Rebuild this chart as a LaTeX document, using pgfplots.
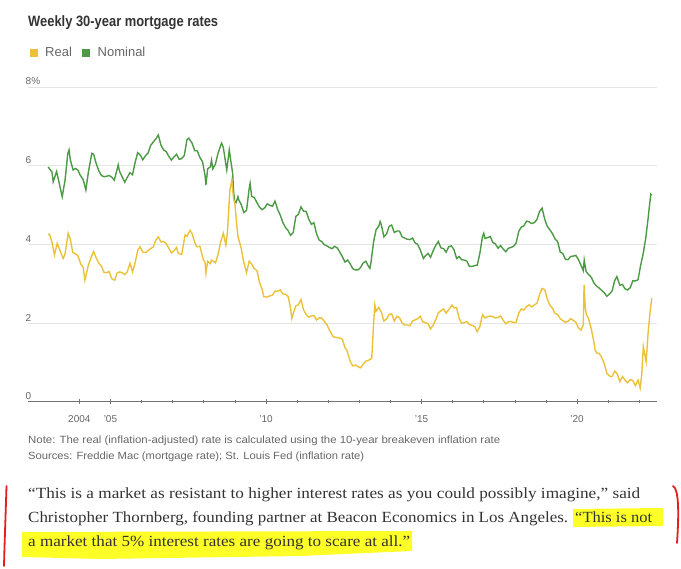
\documentclass[border=0pt]{standalone}
\usepackage{pgfplots}
\pgfplotsset{compat=1.18}
\usepackage{graphicx}
\usepackage{fontspec}
\setmainfont{Liberation Sans}
\newfontfamily\serifq{Liberation Serif}
\definecolor{realc}{RGB}{236,193,58}
\definecolor{nomc}{RGB}{76,154,68}
\definecolor{hl}{RGB}{255,255,40}
\definecolor{txt}{RGB}{51,51,51}
\definecolor{tick}{RGB}{102,102,102}
\definecolor{redmark}{RGB}{226,30,30}
\begin{document}
\begin{tikzpicture}[x=1pt,y=1pt]
\useasboundingbox (0,0) rectangle (681,569);
% title and legend
\node[anchor=base west, inner sep=0pt, text=txt] at (28,542.3) {\resizebox{190pt}{\height}{\bfseries\fontsize{15}{18}\selectfont Weekly 30-year mortgage rates}};
\fill[realc] (29.5,512.3) rectangle (37.5,520);
\node[anchor=base west, inner sep=0pt, text=tick] at (45,512.3) {\fontsize{13}{15}\selectfont Real};
\fill[nomc] (82,512.3) rectangle (90,520);
\node[anchor=base west, inner sep=0pt, text=tick] at (97.5,512.3) {\fontsize{13}{15}\selectfont Nominal};
\begin{axis}[
  at={(28pt,167.3pt)}, anchor=south west,
  scale only axis, width=628.7pt, height=314.7pt,
  xmin=2002.35, xmax=2022.56, ymin=0, ymax=8,
  axis x line*=bottom, axis y line*=left,
  x axis line style={draw=black!55, line width=0.8pt},
  y axis line style={draw=none},
  xtick={2004,2005,2010,2015,2020},
  xticklabels={2004,’05,’10,’15,’20},
  minor xtick={2006,2007,2008,2009,2011,2012,2013,2014,2016,2017,2018,2019,2021,2022},
  tick align=center,
  major tick length=5pt, minor tick length=3pt,
  xtick style={draw=black!55, line width=0.6pt},
  ytick={0,2,4,6,8}, yticklabels={0,2,4,6,8\%},
  ytick style={draw=none},
  ymajorgrids, major grid style={draw=black!10, line width=0.7pt},
  yticklabel style={anchor=base west, inner sep=0pt, yshift=2pt, font=\fontsize{10}{12}\selectfont, text=tick},
  xticklabel style={anchor=base, inner sep=0pt, yshift=-18.3pt, font=\fontsize{10}{12}\selectfont, text=tick},
  /pgf/number format/assume math mode=true,
]
\addplot[nomc, line width=1.4pt] table {
x y
2003.00 5.97
2003.04 5.92
2003.12 5.84
2003.16 5.59
2003.27 5.85
2003.375 5.48
2003.45 5.21
2003.54 5.63
2003.63 6.31
2003.67 6.40
2003.71 6.15
2003.80 5.89
2003.875 5.93
2003.96 5.88
2004.02 5.77
2004.125 5.64
2004.21 5.38
2004.29 5.83
2004.40 6.31
2004.46 6.29
2004.54 6.06
2004.625 5.87
2004.71 5.75
2004.79 5.72
2004.875 5.73
2004.96 5.75
2005.04 5.71
2005.125 5.63
2005.25 6.02
2005.29 5.86
2005.375 5.72
2005.46 5.58
2005.54 5.70
2005.625 5.82
2005.71 5.77
2005.79 6.07
2005.875 6.33
2005.96 6.27
2006.04 6.15
2006.125 6.25
2006.21 6.32
2006.29 6.51
2006.375 6.60
2006.46 6.68
2006.54 6.78
2006.625 6.52
2006.71 6.40
2006.79 6.36
2006.875 6.24
2006.96 6.14
2007.04 6.22
2007.125 6.29
2007.21 6.16
2007.29 6.18
2007.375 6.26
2007.46 6.66
2007.52 6.70
2007.625 6.57
2007.71 6.38
2007.79 6.38
2007.875 6.21
2007.96 6.10
2008.04 5.76
2008.07 5.51
2008.125 5.92
2008.21 5.97
2008.25 6.14
2008.29 5.92
2008.375 6.04
2008.46 6.32
2008.57 6.57
2008.625 6.48
2008.71 6.04
2008.74 5.89
2008.82 6.40
2008.875 6.09
2008.93 5.80
2008.96 5.33
2009.00 5.08
2009.04 5.06
2009.10 5.21
2009.125 5.13
2009.21 5.00
2009.29 4.81
2009.375 4.86
2009.46 5.42
2009.49 5.55
2009.54 5.22
2009.625 5.19
2009.71 5.06
2009.79 4.95
2009.875 4.88
2009.96 4.93
2010.04 5.03
2010.125 4.99
2010.21 4.97
2010.29 5.10
2010.375 4.89
2010.46 4.74
2010.54 4.56
2010.625 4.43
2010.71 4.35
2010.79 4.23
2010.875 4.30
2010.96 4.71
2011.04 4.76
2011.125 4.95
2011.21 4.84
2011.29 4.84
2011.375 4.64
2011.46 4.51
2011.54 4.55
2011.625 4.27
2011.71 4.11
2011.79 4.07
2011.875 3.99
2011.96 3.96
2012.04 3.92
2012.125 3.89
2012.21 3.95
2012.29 3.91
2012.375 3.80
2012.46 3.68
2012.54 3.55
2012.625 3.60
2012.71 3.50
2012.79 3.38
2012.875 3.35
2012.96 3.35
2013.04 3.41
2013.125 3.53
2013.21 3.57
2013.29 3.45
2013.34 3.39
2013.375 3.54
2013.46 4.07
2013.54 4.37
2013.625 4.46
2013.67 4.58
2013.71 4.49
2013.79 4.19
2013.875 4.26
2013.96 4.46
2014.04 4.49
2014.125 4.30
2014.21 4.34
2014.29 4.34
2014.375 4.19
2014.46 4.16
2014.54 4.13
2014.625 4.12
2014.71 4.16
2014.79 4.04
2014.875 4.00
2014.96 3.86
2015.06 3.64
2015.125 3.71
2015.21 3.77
2015.29 3.67
2015.375 3.84
2015.46 3.98
2015.54 4.07
2015.625 3.91
2015.71 3.89
2015.79 3.80
2015.875 3.94
2015.96 3.96
2016.04 3.87
2016.13 3.64
2016.21 3.69
2016.29 3.61
2016.375 3.60
2016.46 3.57
2016.54 3.44
2016.625 3.44
2016.71 3.46
2016.79 3.47
2016.875 3.77
2016.96 4.20
2017.00 4.28
2017.04 4.15
2017.125 4.17
2017.21 4.20
2017.29 4.05
2017.375 4.01
2017.46 3.90
2017.54 3.97
2017.625 3.88
2017.71 3.81
2017.79 3.90
2017.875 3.92
2017.96 3.95
2018.04 4.03
2018.125 4.33
2018.21 4.44
2018.29 4.47
2018.375 4.59
2018.46 4.57
2018.54 4.53
2018.625 4.55
2018.71 4.63
2018.79 4.83
2018.875 4.92
2018.96 4.64
2019.04 4.46
2019.125 4.37
2019.21 4.27
2019.29 4.14
2019.375 4.07
2019.46 3.80
2019.54 3.77
2019.625 3.62
2019.71 3.61
2019.79 3.69
2019.875 3.70
2019.96 3.72
2020.04 3.62
2020.125 3.47
2020.20 3.33
2020.23 3.60
2020.29 3.31
2020.375 3.23
2020.46 3.16
2020.54 3.02
2020.625 2.94
2020.71 2.89
2020.79 2.83
2020.875 2.77
2020.96 2.68
2021.04 2.74
2021.125 2.81
2021.21 3.08
2021.28 3.18
2021.375 2.96
2021.46 2.98
2021.54 2.87
2021.625 2.84
2021.71 2.90
2021.79 3.07
2021.875 3.07
2021.96 3.10
2022.04 3.45
2022.125 3.76
2022.21 4.17
2022.29 4.70
2022.33 5.00
2022.37 5.27
2022.40 5.25
};
\addplot[realc, line width=1.4pt] table {
x y
2003.00 4.24
2003.04 4.26
2003.125 4.04
2003.20 3.73
2003.29 4.03
2003.375 3.85
2003.48 3.64
2003.54 3.75
2003.64 4.28
2003.71 4.13
2003.79 3.79
2003.875 3.76
2003.96 3.70
2004.04 3.51
2004.125 3.41
2004.18 3.09
2004.29 3.47
2004.39 3.69
2004.46 3.82
2004.54 3.66
2004.625 3.52
2004.71 3.45
2004.79 3.29
2004.875 3.28
2004.96 3.31
2005.04 3.13
2005.14 3.09
2005.21 3.27
2005.30 3.30
2005.375 3.28
2005.46 3.23
2005.54 3.30
2005.63 3.52
2005.71 3.30
2005.79 3.52
2005.875 3.84
2005.95 3.94
2006.04 3.80
2006.16 3.80
2006.21 3.84
2006.29 3.89
2006.375 3.93
2006.46 4.11
2006.54 4.19
2006.625 4.06
2006.71 4.07
2006.79 4.02
2006.91 3.86
2006.96 3.78
2007.04 3.83
2007.125 3.92
2007.18 3.77
2007.29 3.74
2007.40 4.24
2007.46 4.20
2007.56 4.36
2007.625 4.27
2007.71 4.05
2007.77 3.94
2007.875 3.95
2007.99 3.60
2008.04 3.55
2008.07 3.27
2008.125 3.57
2008.21 3.51
2008.25 3.60
2008.375 3.53
2008.47 3.77
2008.54 4.06
2008.63 4.28
2008.71 3.98
2008.76 4.30
2008.84 5.38
2008.90 5.63
2008.96 5.15
2009.00 5.04
2009.05 4.59
2009.10 4.19
2009.125 4.13
2009.21 3.88
2009.27 3.60
2009.375 3.28
2009.46 3.57
2009.54 3.50
2009.625 3.38
2009.71 3.33
2009.79 3.04
2009.875 2.86
2009.93 2.67
2010.04 2.66
2010.125 2.69
2010.21 2.71
2010.29 2.81
2010.375 2.81
2010.46 2.84
2010.54 2.74
2010.625 2.73
2010.71 2.68
2010.79 2.38
2010.83 2.12
2010.96 2.44
2011.04 2.46
2011.125 2.60
2011.21 2.33
2011.29 2.22
2011.375 2.15
2011.46 2.18
2011.54 2.19
2011.625 2.08
2011.71 2.13
2011.79 2.13
2011.875 2.04
2011.96 1.96
2012.04 1.82
2012.16 1.65
2012.29 1.63
2012.375 1.62
2012.46 1.58
2012.54 1.37
2012.60 1.31
2012.71 1.02
2012.79 0.91
2012.875 0.93
2012.96 0.89
2013.04 0.86
2013.125 0.95
2013.21 1.03
2013.29 1.05
2013.40 1.10
2013.46 2.00
2013.50 2.46
2013.54 2.30
2013.625 2.40
2013.71 2.27
2013.79 2.05
2013.875 2.10
2013.96 2.22
2014.04 2.23
2014.125 2.05
2014.21 2.17
2014.29 2.14
2014.375 2.00
2014.46 1.95
2014.54 1.95
2014.625 1.93
2014.71 2.05
2014.79 2.08
2014.875 2.11
2014.96 2.17
2015.04 2.03
2015.125 2.01
2015.21 1.98
2015.29 1.85
2015.375 1.95
2015.46 2.09
2015.54 2.26
2015.625 2.31
2015.71 2.36
2015.79 2.25
2015.875 2.34
2015.98 2.46
2016.04 2.39
2016.125 2.39
2016.21 2.12
2016.29 1.99
2016.375 2.01
2016.46 2.04
2016.54 1.96
2016.625 1.94
2016.71 1.91
2016.79 1.78
2016.875 1.91
2016.96 2.21
2017.04 2.13
2017.125 2.16
2017.21 2.18
2017.29 2.16
2017.375 2.13
2017.46 2.14
2017.54 2.18
2017.625 2.07
2017.71 1.98
2017.79 2.03
2017.875 2.04
2017.96 2.01
2018.04 2.02
2018.125 2.25
2018.21 2.36
2018.29 2.33
2018.375 2.42
2018.46 2.46
2018.54 2.41
2018.625 2.46
2018.71 2.50
2018.79 2.71
2018.87 2.88
2018.96 2.85
2019.04 2.62
2019.125 2.45
2019.21 2.38
2019.29 2.24
2019.375 2.22
2019.46 2.11
2019.54 2.06
2019.625 2.02
2019.71 2.04
2019.79 2.11
2019.875 2.07
2019.96 2.02
2020.04 1.88
2020.125 1.82
2020.20 1.95
2020.225 2.97
2020.26 2.45
2020.29 2.24
2020.375 2.10
2020.46 1.84
2020.54 1.52
2020.58 1.31
2020.625 1.24
2020.71 1.23
2020.79 1.13
2020.875 0.97
2020.96 0.72
2021.06 0.64
2021.125 0.64
2021.21 0.78
2021.29 0.71
2021.375 0.51
2021.46 0.64
2021.54 0.55
2021.625 0.48
2021.71 0.56
2021.79 0.54
2021.875 0.41
2021.96 0.55
2022.03 0.35
2022.08 0.70
2022.13 1.40
2022.22 1.02
2022.29 1.82
2022.35 2.30
2022.40 2.63
};
\end{axis}
% notes
\node[anchor=base west, inner sep=0pt, text=tick] at (28,125.5) {\resizebox{472pt}{\height}{\fontsize{10.5}{12}\selectfont Note: The real (inflation-adjusted) rate is calculated using the 10-year breakeven inflation rate}};
\node[anchor=base west, inner sep=0pt, text=tick] at (28,109.5) {\resizebox{336pt}{\height}{\fontsize{10.5}{12}\selectfont Sources: Freddie Mac (mortgage rate); St. Louis Fed (inflation rate)}};
% highlights
\fill[hl] (573,60) -- (663,61) -- (663,43) -- (573,42) -- cycle;
\fill[hl] (22,37) -- (412,38) -- (412,18) -- (300,13) -- (100,10) -- (22,12) -- cycle;
% quote
\node[anchor=base west, inner sep=0pt, text=txt] at (28,70) {\resizebox{612pt}{\height}{\serifq\fontsize{15.5}{18}\selectfont “This is a market as resistant to higher interest rates as you could possibly imagine,” said}};
\node[anchor=base west, inner sep=0pt, text=txt] at (28,46.5) {\resizebox{540pt}{\height}{\serifq\fontsize{15.5}{18}\selectfont Christopher Thornberg, founding partner at Beacon Economics in Los Angeles.}};
\node[anchor=base west, inner sep=0pt, text=txt] at (575,46.5) {\resizebox{77pt}{\height}{\serifq\fontsize{15.5}{18}\selectfont “This is not}};
\node[anchor=base west, inner sep=0pt, text=txt] at (28,22.5) {\resizebox{382pt}{\height}{\serifq\fontsize{15.5}{18}\selectfont a market that 5\% interest rates are going to scare at all.”}};
% red brackets
\draw[redmark, line width=1.8pt, line cap=round] (6.5,83) .. controls (5.5,50) and (4.5,25) .. (4,3);
\draw[redmark, line width=1.8pt, line cap=round] (673,83) .. controls (679,80) and (679,55) .. (677,26);
\end{tikzpicture}
\end{document}
